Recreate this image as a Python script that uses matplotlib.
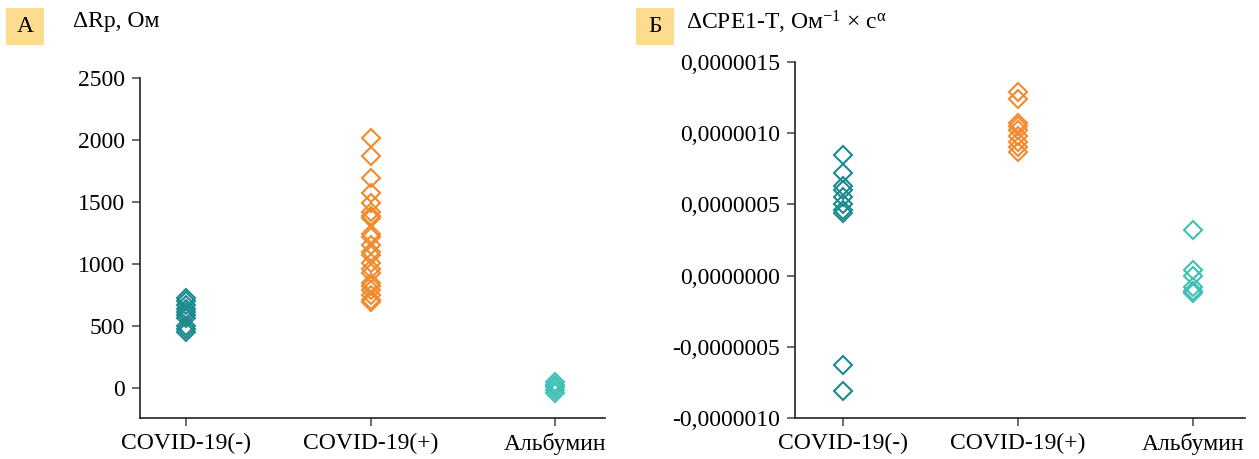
import matplotlib
matplotlib.use("Agg")
import matplotlib.pyplot as plt
from matplotlib.patches import Rectangle

plt.rcParams['font.family'] = ['Liberation Serif', 'DejaVu Serif']
plt.rcParams['mathtext.fontset'] = 'custom'
plt.rcParams['mathtext.rm'] = 'Liberation Serif'
plt.rcParams['mathtext.it'] = 'Liberation Serif:italic'

categories = ["COVID-19(-)", "COVID-19(+)", "Альбумин"]
colors = ["#1b8a8f", "#f28a2c", "#3fc0b6"]

# Panel A: ΔRp, Ом
rp_neg = [725, 700, 670, 640, 615, 590, 565, 500, 475, 450]
rp_pos = [2020, 1870, 1690, 1570, 1490, 1420, 1390, 1370, 1240, 1220, 1150, 1100,
          1070, 1010, 960, 930, 850, 820, 790, 750, 710, 690]
rp_alb = [50, 25, 5, -15, -38]
rp_ticks = [0, 500, 1000, 1500, 2000, 2500]

# Panel B: ΔCPE1-T
cpe_neg = [0.85e-6, 0.72e-6, 0.63e-6, 0.60e-6, 0.55e-6, 0.50e-6, 0.46e-6, 0.44e-6,
           -0.63e-6, -0.81e-6]
cpe_pos = [1.29e-6, 1.24e-6, 1.07e-6, 1.05e-6, 1.02e-6, 0.98e-6, 0.94e-6, 0.90e-6, 0.87e-6]
cpe_alb = [0.32e-6, 0.04e-6, 0.0, -0.08e-6, -0.11e-6, -0.12e-6]
cpe_ticks = [-1.0e-6, -0.5e-6, 0.0, 0.5e-6, 1.0e-6, 1.5e-6]
cpe_labels = ["-0,0000010", "-0,0000005", "0,0000000", "0,0000005", "0,0000010", "0,0000015"]

W, H = 1259, 459
fig = plt.figure(figsize=(W / 100, H / 100), dpi=100)

def px_axes(x0, y_top, x1, y_bot):
    return fig.add_axes([x0 / W, 1 - y_bot / H, (x1 - x0) / W, (y_bot - y_top) / H])

axA = px_axes(140, 78, 605, 418)
axB = px_axes(795, 62, 1245, 418)

def style(ax):
    for s in ['top', 'right']:
        ax.spines[s].set_visible(False)
    for s in ['left', 'bottom']:
        ax.spines[s].set_linewidth(1.2)
        ax.spines[s].set_color('#222222')
    ax.tick_params(axis='both', direction='out', length=6, width=1.1, color='#444444',
                   labelsize=17, pad=5)
    ax.set_xticks(range(len(categories)))
    ax.set_xticklabels(categories)

def draw(ax, series):
    for i, vals in enumerate(series):
        ax.plot([i] * len(vals), vals, linestyle='none', marker='D', markersize=9.6,
                markerfacecolor='none', markeredgecolor=colors[i], markeredgewidth=1.5)

draw(axA, [rp_neg, rp_pos, rp_alb])
style(axA)
axA.set_xlim(-0.25, 2.27)
axA.set_ylim(-242, 2500)
axA.set_yticks(rp_ticks)
axA.set_yticklabels([str(t) for t in rp_ticks])

draw(axB, [cpe_neg, cpe_pos, cpe_alb])
style(axB)
axB.set_xlim(-0.275, 2.30)
axB.set_ylim(-1.0e-6, 1.5e-6)
axB.set_yticks(cpe_ticks)
axB.set_yticklabels(cpe_labels)

# panel badges
box_color = "#fddc8f"
for (x0, letter) in [(6, "А"), (636, "Б")]:
    fig.patches.append(Rectangle((x0 / W, 1 - 45 / H), 38 / W, 37 / H,
                                 transform=fig.transFigure, facecolor=box_color,
                                 edgecolor='none'))
    fig.text((x0 + 19) / W, 1 - 27 / H, letter, ha='center', va='center', fontsize=17)

fig.text(73 / W, 1 - 22 / H, "ΔRp, Ом", ha='left', va='center', fontsize=17)
fig.text(686 / W, 1 - 22 / H, r"ΔCPE1-T, Ом$^{-1}$ × c$^{\mathrm{α}}$", ha='left',
         va='center', fontsize=17)

fig.savefig("out.png", dpi=100)
